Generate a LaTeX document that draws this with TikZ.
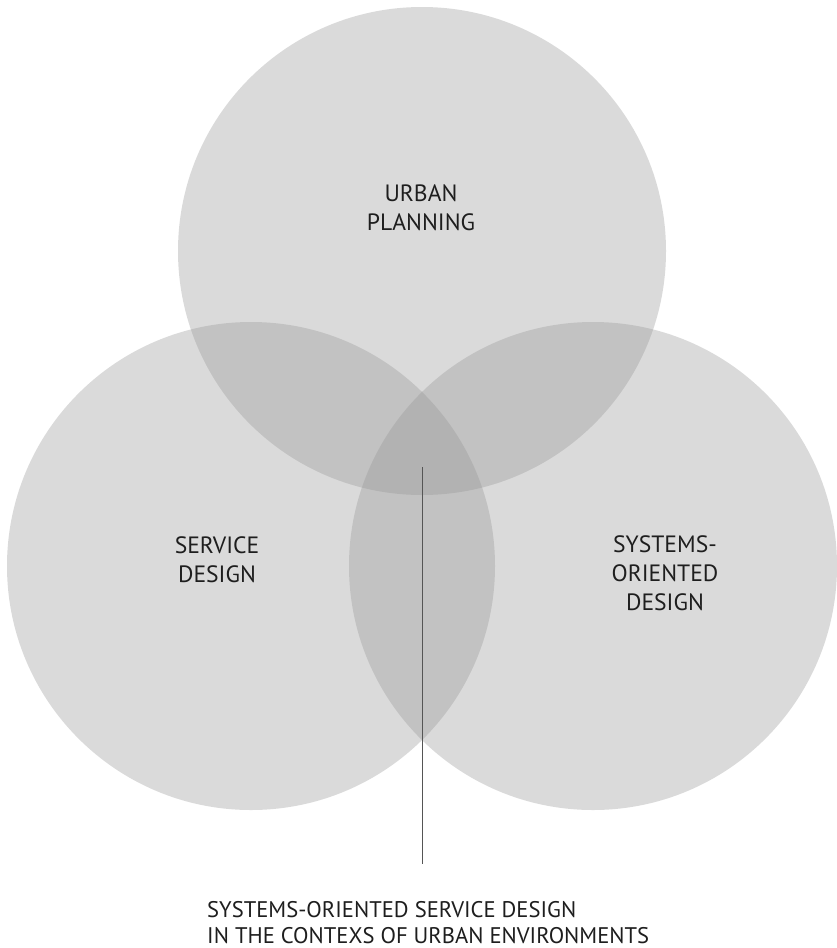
\documentclass[tikz,border=0pt]{standalone}
\usepackage{fontspec}
\setmainfont{PT Sans}
\begin{document}
\begin{tikzpicture}[x=1pt,y=-1pt,
  venn/.style={circle, minimum size=488pt, inner sep=0pt, fill=circgray, fill opacity=0.35, draw=none},
  lbl/.style={inner sep=0pt, align=center, text=txtgray, font={\fontsize{23.6}{29}\selectfont}},
  caption/.style={inner sep=0pt, align=left, text=txtgray, font={\fontsize{22.6}{26}\selectfont}},
  pointer/.style={draw=linegray, line width=1pt}]
\definecolor{circgray}{RGB}{150,150,150}
\definecolor{txtgray}{RGB}{30,30,30}
\definecolor{linegray}{RGB}{85,85,85}
\useasboundingbox (0,0) rectangle (837,948);
\fill[white] (0,0) rectangle (837,948);
\node[venn] (up) at (422,251) {};
\node[venn] (sd) at (251,566) {};
\node[venn] (so) at (593,566) {};
\node[lbl] (upl) at (421,207.5) {URBAN\\PLANNING};
\node[lbl] (sdl) at (217,560) {SERVICE\\DESIGN};
\node[lbl] (sol) at (665,573) {SYSTEMS-\\ORIENTED\\DESIGN};
\coordinate (ptop) at (422,467);
\coordinate (pbot) at (422,864);
\draw[pointer] (ptop) -- (pbot);
\node[caption, anchor=west] (cap) at (207,922.5) {SYSTEMS-ORIENTED SERVICE DESIGN\\IN THE CONTEXS OF URBAN ENVIRONMENTS};
\end{tikzpicture}
\end{document}
